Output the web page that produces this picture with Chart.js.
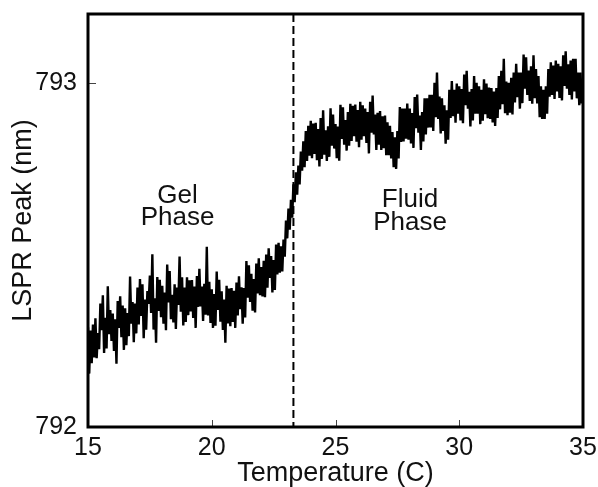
<!DOCTYPE html>
<html><head><meta charset="utf-8">
<script src="https://cdn.jsdelivr.net/npm/chart.js@4.4.1/dist/chart.umd.min.js"></script>
<style>html,body{margin:0;padding:0;background:#fff}#wrap{width:598px;height:487px}</style>
</head><body><div id="wrap"><canvas id="c" width="598" height="487"></canvas></div>
<script>
// Temperature (C) sample points
const temperatures = [
15.00,15.05,15.10,15.15,15.20,15.25,15.30,15.35,15.40,15.45,15.50,15.55,15.60,15.65,15.70,15.75,15.80,15.85,15.90,15.95,
16.00,16.05,16.10,16.15,16.20,16.25,16.30,16.35,16.40,16.45,16.50,16.55,16.60,16.65,16.70,16.75,16.80,16.85,16.90,16.95,
17.00,17.05,17.10,17.15,17.20,17.25,17.30,17.35,17.40,17.45,17.50,17.55,17.60,17.65,17.70,17.75,17.80,17.85,17.90,17.95,
18.00,18.05,18.10,18.15,18.20,18.25,18.30,18.35,18.40,18.45,18.50,18.55,18.60,18.65,18.70,18.75,18.80,18.85,18.90,18.95,
19.00,19.05,19.10,19.15,19.20,19.25,19.30,19.35,19.40,19.45,19.50,19.55,19.60,19.65,19.70,19.75,19.80,19.85,19.90,19.95,
20.00,20.05,20.10,20.15,20.20,20.25,20.30,20.35,20.40,20.45,20.50,20.55,20.60,20.65,20.70,20.75,20.80,20.85,20.90,20.95,
21.00,21.05,21.10,21.15,21.20,21.25,21.30,21.35,21.40,21.45,21.50,21.55,21.60,21.65,21.70,21.75,21.80,21.85,21.90,21.95,
22.00,22.05,22.10,22.15,22.20,22.25,22.30,22.35,22.40,22.45,22.50,22.55,22.60,22.65,22.70,22.75,22.80,22.85,22.90,22.95,
23.00,23.05,23.10,23.15,23.20,23.25,23.30,23.35,23.40,23.45,23.50,23.55,23.60,23.65,23.70,23.75,23.80,23.85,23.90,23.95,
24.00,24.05,24.10,24.15,24.20,24.25,24.30,24.35,24.40,24.45,24.50,24.55,24.60,24.65,24.70,24.75,24.80,24.85,24.90,24.95,
25.00,25.05,25.10,25.15,25.20,25.25,25.30,25.35,25.40,25.45,25.50,25.55,25.60,25.65,25.70,25.75,25.80,25.85,25.90,25.95,
26.00,26.05,26.10,26.15,26.20,26.25,26.30,26.35,26.40,26.45,26.50,26.55,26.60,26.65,26.70,26.75,26.80,26.85,26.90,26.95,
27.00,27.05,27.10,27.15,27.20,27.25,27.30,27.35,27.40,27.45,27.50,27.55,27.60,27.65,27.70,27.75,27.80,27.85,27.90,27.95,
28.00,28.05,28.10,28.15,28.20,28.25,28.30,28.35,28.40,28.45,28.50,28.55,28.60,28.65,28.70,28.75,28.80,28.85,28.90,28.95,
29.00,29.05,29.10,29.15,29.20,29.25,29.30,29.35,29.40,29.45,29.50,29.55,29.60,29.65,29.70,29.75,29.80,29.85,29.90,29.95,
30.00,30.05,30.10,30.15,30.20,30.25,30.30,30.35,30.40,30.45,30.50,30.55,30.60,30.65,30.70,30.75,30.80,30.85,30.90,30.95,
31.00,31.05,31.10,31.15,31.20,31.25,31.30,31.35,31.40,31.45,31.50,31.55,31.60,31.65,31.70,31.75,31.80,31.85,31.90,31.95,
32.00,32.05,32.10,32.15,32.20,32.25,32.30,32.35,32.40,32.45,32.50,32.55,32.60,32.65,32.70,32.75,32.80,32.85,32.90,32.95,
33.00,33.05,33.10,33.15,33.20,33.25,33.30,33.35,33.40,33.45,33.50,33.55,33.60,33.65,33.70,33.75,33.80,33.85,33.90,33.95,
34.00,34.05,34.10,34.15,34.20,34.25,34.30,34.35,34.40,34.45,34.50,34.55,34.60,34.65,34.70,34.75,34.80,34.85,34.90,34.95,
35.00];

// LSPR peak wavelength (nm)
const lsprPeak = [
792.290,792.155,792.280,792.185,792.298,792.202,792.316,792.200,792.273,792.226,792.359,792.281,792.383,792.215,792.317,792.228,792.409,792.270,792.340,792.250,
792.330,792.221,792.313,792.184,792.366,792.288,792.380,792.261,792.353,792.224,792.345,792.238,792.331,792.264,792.437,792.300,792.363,792.246,792.359,792.272,
792.405,792.298,792.430,792.323,792.415,792.258,792.370,792.283,792.395,792.358,792.440,792.331,792.502,792.283,792.374,792.245,792.436,792.337,792.428,792.319,
792.410,792.300,792.391,792.281,792.472,792.362,792.453,792.313,792.384,792.304,792.415,792.285,792.405,792.355,792.495,792.335,792.435,792.295,792.405,792.305,
792.435,792.325,792.426,792.336,792.427,792.317,792.408,792.288,792.439,792.349,792.460,792.350,792.408,792.308,792.416,792.326,792.524,792.324,792.422,792.302,
792.400,792.288,792.386,792.294,792.452,792.340,792.428,792.306,792.394,792.282,792.370,792.245,792.410,792.301,792.402,792.293,792.404,792.305,792.396,792.288,
792.420,792.324,792.438,792.342,792.406,792.300,792.404,792.318,792.482,792.376,792.470,792.363,792.445,792.338,792.430,792.333,792.475,792.388,792.490,792.383,
792.465,792.379,792.483,792.377,792.501,792.405,792.519,792.433,792.497,792.391,792.485,792.398,792.530,792.443,792.535,792.448,792.525,792.452,792.545,792.495,
792.600,792.548,792.635,792.573,792.660,792.608,792.705,792.653,792.740,792.675,792.760,792.705,792.800,792.745,792.830,792.755,792.860,792.773,792.875,792.788,
792.890,792.781,792.882,792.793,792.884,792.775,792.866,792.757,792.898,792.779,792.920,792.791,792.862,792.773,792.874,792.785,792.926,792.817,792.908,792.809,
792.880,792.781,792.873,792.774,792.936,792.837,792.929,792.820,792.892,792.803,792.915,792.817,792.939,792.831,792.933,792.845,792.937,792.829,792.921,792.813,
792.945,792.835,792.935,792.845,792.925,792.825,792.915,792.795,792.945,792.855,792.963,792.850,792.908,792.805,792.913,792.820,792.918,792.805,792.903,792.810,
792.905,792.790,792.885,792.790,792.875,792.780,792.857,792.755,792.842,792.750,792.860,792.780,792.930,792.828,792.925,792.830,792.925,792.838,792.940,792.835,
792.925,792.824,792.912,792.811,792.959,792.868,792.966,792.855,792.905,792.805,792.915,792.830,792.955,792.850,792.955,792.870,792.965,792.870,792.965,792.860,
793.000,792.900,793.030,792.895,792.960,792.853,792.955,792.860,792.935,792.823,792.920,792.835,792.980,792.898,793.005,792.903,792.980,792.884,792.998,792.910,
792.990,792.891,792.982,792.883,793.024,792.935,793.035,792.925,792.974,792.873,792.982,792.891,793.020,792.910,793.000,792.910,792.990,792.880,792.980,792.890,
793.010,792.909,792.998,792.897,792.986,792.895,792.985,792.885,792.975,792.875,792.985,792.898,793.020,792.923,793.035,792.938,793.070,792.912,793.004,792.906,
793.000,792.913,793.015,792.908,793.030,792.943,793.055,792.958,793.030,792.925,793.030,792.941,793.082,792.983,793.074,792.965,793.036,792.947,793.048,792.939,
793.080,792.955,793.040,792.940,793.020,792.900,792.990,792.895,792.980,792.895,792.990,792.910,793.040,792.960,793.060,792.965,793.050,792.953,793.065,792.975,
793.055,792.956,793.048,792.949,793.080,792.991,793.092,792.983,793.054,792.965,793.065,792.952,793.070,792.975,793.070,792.955,793.030,792.935,793.030,792.940,
792.995];

const xTicks = [15, 20, 25, 30, 35];
const yTicks = [792, 793];
const transitionTemp = 23.3;
const phaseLabels = [
  { text: 'Gel',   x: 18.62, y: 792.651 },
  { text: 'Phase', x: 18.62, y: 792.587 },
  { text: 'Fluid', x: 28.01, y: 792.640 },
  { text: 'Phase', x: 28.01, y: 792.573 }
];

const FONT = '"Liberation Sans", Arial, Helvetica, sans-serif';
const INK = '#111';

const decor = {
  id: 'decor',
  beforeDatasetsDraw(chart) {
    const { ctx, chartArea: a, scales: { x } } = chart;
    const px = x.getPixelForValue(transitionTemp);
    ctx.save();
    ctx.strokeStyle = '#000';
    ctx.lineWidth = 2;
    ctx.setLineDash([8, 4]);
    ctx.beginPath();
    ctx.moveTo(px, a.top);
    ctx.lineTo(px, a.bottom);
    ctx.stroke();
    ctx.restore();
  },
  afterDatasetsDraw(chart) {
    const { ctx, chartArea: a, scales: { x, y } } = chart;
    ctx.save();
    ctx.strokeStyle = '#444';
    ctx.lineWidth = 1;
    ctx.beginPath();
    xTicks.forEach(v => {
      const p = Math.round(x.getPixelForValue(v)) + 0.5;
      ctx.moveTo(p, a.bottom);
      ctx.lineTo(p, a.bottom - 7);
    });
    yTicks.forEach(v => {
      const p = Math.round(y.getPixelForValue(v)) + 0.5;
      ctx.moveTo(a.left, p);
      ctx.lineTo(a.left + 8, p);
    });
    ctx.stroke();
    ctx.strokeStyle = '#000';
    ctx.lineWidth = 3;
    ctx.strokeRect(a.left, a.top, a.right - a.left, a.bottom - a.top);
    ctx.fillStyle = INK;
    ctx.font = '26px ' + FONT;
    ctx.textAlign = 'center';
    ctx.textBaseline = 'alphabetic';
    phaseLabels.forEach(l => {
      ctx.fillText(l.text, x.getPixelForValue(l.x), y.getPixelForValue(l.y));
    });
    ctx.restore();
  }
};

new Chart(document.getElementById('c'), {
  type: 'line',
  data: {
    datasets: [{
      data: temperatures.map((t, i) => ({ x: t, y: lsprPeak[i] })),
      borderColor: '#000',
      borderWidth: 2.4,
      pointRadius: 0,
      tension: 0,
      fill: false
    }]
  },
  options: {
    responsive: false,
    animation: false,
    devicePixelRatio: 1,
    layout: { padding: { top: 14, right: 15, left: 0, bottom: 0 } },
    plugins: { legend: { display: false }, tooltip: { enabled: false } },
    scales: {
      x: {
        type: 'linear', min: 15, max: 35,
        grid: { display: false, drawTicks: false },
        border: { display: false },
        afterBuildTicks: s => { s.ticks = xTicks.map(v => ({ value: v })); },
        afterFit: s => { s.height = 60; s.paddingLeft = 0; s.paddingRight = 0; },
        ticks: { color: INK, font: { family: FONT, size: 25 }, padding: 6, maxRotation: 0, autoSkip: false },
        title: { display: true, text: 'Temperature (C)', color: INK, font: { family: FONT, size: 27, lineHeight: 1 }, padding: { top: 0, bottom: 0 } }
      },
      y: {
        type: 'linear', min: 792, max: 793.2,
        grid: { display: false, drawTicks: false },
        border: { display: false },
        afterBuildTicks: s => { s.ticks = yTicks.map(v => ({ value: v })); },
        afterFit: s => { s.width = 88; s.paddingTop = 0; s.paddingBottom = 0; },
        ticks: { color: INK, font: { family: FONT, size: 25 }, padding: 11, autoSkip: false },
        title: { display: true, text: 'LSPR Peak (nm)', color: INK, font: { family: FONT, size: 27, lineHeight: 1 }, padding: { top: 10, bottom: 0 } }
      }
    }
  },
  plugins: [decor]
});
</script>
</body></html>
